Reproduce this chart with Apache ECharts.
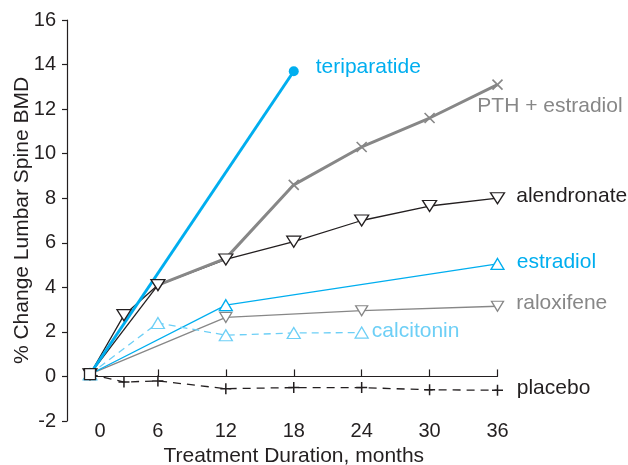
<!DOCTYPE html>
<html>
<head>
<meta charset="utf-8">
<script src="https://cdn.jsdelivr.net/npm/echarts@6/dist/echarts.min.js"></script>
<style>
  html, body { margin: 0; padding: 0; background: #fff; }
  #chart { width: 628px; height: 465px; }
</style>
</head>
<body>
<div id="chart"></div>
<script>
// Lumbar spine BMD change by treatment, months 0-36
const monthTicks = [0, 6, 12, 18, 24, 30, 36];

const teriMonths = [0, 18];
const teriValues = [0.1, 13.7];

const pthEarlyMonths = [0, 6];
const pthEarlyValues = [0.1, 4.1];
const pthMonths = [6, 12, 18, 24, 30, 36];
const pthValues = [4.1, 5.3, 8.6, 10.3, 11.6, 13.1];

const alenMonths = [0, 3, 6, 12, 18, 24, 30, 36];
const alenValues = [0.1, 2.75, 4.1, 5.25, 6.05, 7.0, 7.65, 8.0];

const estrMonths = [0, 12, 36];
const estrValues = [0.1, 3.2, 5.05];

const raloMonths = [0, 12, 24, 36];
const raloValues = [0.1, 2.65, 2.95, 3.15];

const calcMonths = [0, 6, 12, 18, 24];
const calcValues = [0.1, 2.4, 1.85, 1.95, 1.97];

const placMonths = [0, 3, 6, 12, 18, 24, 30, 36];
const placValues = [0.1, -0.25, -0.2, -0.55, -0.5, -0.5, -0.6, -0.62];

const FONT = '"Liberation Sans", Arial, Helvetica, sans-serif';
const INK = '#231f20';
const CYAN = '#00aeef';
const LIGHT_CYAN = '#6dcff6';
const GREY = '#878787';

const CROSS = 'path://M0,0L10,10M10,0L0,10';
const PLUS = 'path://M5,0L5,10M0,5L10,5';

// Build [x, y] points; the last point carries the series name label
function points(months, values, label) {
  return months.map((m, i) => {
    const item = { value: [m, values[i]] };
    if (label && i === months.length - 1) {
      item.label = Object.assign({ show: true, formatter: '{a}', fontFamily: FONT, fontSize: 21 }, label);
    }
    return item;
  });
}

const chart = echarts.init(document.getElementById('chart'), null, { renderer: 'canvas' });

chart.setOption({
  animation: false,
  backgroundColor: '#fff',
  grid: { left: 90, right: 130.5, top: 20, bottom: 44, containLabel: false, outerBoundsMode: 'none' },
  xAxis: [
    {
      // zero baseline with upward ticks
      type: 'value', min: 0, max: 36, interval: 6, position: 'top',
      axisLine: { show: true, onZero: true, lineStyle: { color: INK, width: 1.2 } },
      axisTick: { show: true, inside: false, length: 7, customValues: [6, 12, 18, 24, 30, 36],
        lineStyle: { color: INK, width: 1.2 } },
      axisLabel: { show: false },
      splitLine: { show: false }
    },
    {
      type: 'value', min: 0, max: 36, interval: 6, position: 'bottom',
      axisLine: { show: false, onZero: false },
      axisTick: { show: false },
      splitLine: { show: false },
      axisLabel: {
        color: INK, fontFamily: FONT, fontSize: 20, margin: 0,
        customValues: monthTicks,
        formatter: v => (v === 0 ? '{z|0}' : String(v)),
        rich: { z: { color: INK, fontFamily: FONT, fontSize: 20, padding: [0, 0, 0, 20] } }
      },
      name: 'Treatment Duration, months',
      nameLocation: 'middle', nameGap: 24,
      nameTextStyle: { color: INK, fontFamily: FONT, fontSize: 21 }
    }
  ],
  yAxis: {
    type: 'value', min: -2, max: 16, interval: 2, offset: 23,
    axisLine: { show: true, onZero: false, lineStyle: { color: INK, width: 1.2 } },
    axisTick: { show: true, inside: false, length: 5, lineStyle: { color: INK, width: 1.2 } },
    axisLabel: { color: INK, fontFamily: FONT, fontSize: 20, margin: 11 },
    splitLine: { show: false },
    name: '% Change Lumbar Spine BMD',
    nameLocation: 'middle', nameGap: 34, nameMoveOverlap: false,
    nameTextStyle: { color: INK, fontFamily: FONT, fontSize: 21 }
  },
  series: [
    {
      name: 'raloxifene', type: 'line', xAxisIndex: 0,
      data: points(raloMonths, raloValues, { position: 'right', distance: 12, offset: [0, -3], color: GREY }),
      lineStyle: { color: GREY, width: 1.3 },
      symbol: 'triangle', symbolRotate: 180, symbolSize: [12, 10], showSymbol: true,
      itemStyle: { color: '#fff', borderColor: GREY, borderWidth: 1.3 },
      emphasis: { disabled: true }
    },
    {
      name: 'estradiol', type: 'line', xAxisIndex: 0,
      data: points(estrMonths, estrValues, { position: 'right', distance: 12, offset: [0, -2], color: CYAN }),
      lineStyle: { color: CYAN, width: 1.3 },
      symbol: 'triangle', symbolSize: [13, 11],
      itemStyle: { color: '#fff', borderColor: CYAN, borderWidth: 1.3 },
      emphasis: { disabled: true }
    },
    {
      name: 'calcitonin', type: 'line', xAxisIndex: 0,
      data: points(calcMonths, calcValues, { position: 'right', distance: 3, offset: [0, -1], color: LIGHT_CYAN }),
      lineStyle: { color: LIGHT_CYAN, width: 1.3, type: [7, 5] },
      symbol: 'triangle', symbolSize: [13, 11],
      itemStyle: { color: '#fff', borderColor: LIGHT_CYAN, borderWidth: 1.3 },
      emphasis: { disabled: true }
    },
    {
      name: 'alendronate', type: 'line', xAxisIndex: 0,
      data: points(alenMonths, alenValues, { position: 'right', distance: 11, offset: [0, -2], color: INK }),
      lineStyle: { color: INK, width: 1.3 },
      symbol: 'triangle', symbolRotate: 180, symbolSize: [14, 11],
      itemStyle: { color: '#fff', borderColor: INK, borderWidth: 1.3 },
      emphasis: { disabled: true }
    },
    {
      name: 'PTH + estradiol (start)', type: 'line', xAxisIndex: 0,
      data: points(pthEarlyMonths, pthEarlyValues),
      lineStyle: { color: INK, width: 1.3 },
      showSymbol: false, symbol: 'none',
      emphasis: { disabled: true }
    },
    {
      name: 'PTH + estradiol', type: 'line', xAxisIndex: 0,
      data: points(pthMonths, pthValues, { position: 'right', distance: 0, offset: [-26, 22], color: GREY }).map((d, i) => {
        if (i < 2) { d.symbol = 'none'; }
        return d;
      }),
      lineStyle: { color: GREY, width: 3 },
      symbol: CROSS, symbolSize: 10,
      itemStyle: { color: GREY, borderColor: GREY, borderWidth: 1.6 },
      emphasis: { disabled: true }
    },
    {
      name: 'teriparatide', type: 'line', xAxisIndex: 0,
      data: points(teriMonths, teriValues, { position: 'right', distance: 17, offset: [0, -4], color: CYAN }).map((d, i) => {
        if (i === 0) { d.symbol = 'none'; }
        return d;
      }),
      lineStyle: { color: CYAN, width: 3 },
      symbol: 'circle', symbolSize: 10,
      itemStyle: { color: CYAN },
      emphasis: { disabled: true }
    },
    {
      name: 'placebo', type: 'line', xAxisIndex: 0,
      data: points(placMonths, placValues, { position: 'right', distance: 13, offset: [0, -2], color: INK }).map((d, i) => {
        if (i === 0) {
          d.symbol = 'rect';
          d.symbolSize = 11;
          d.itemStyle = { color: '#fff', borderColor: INK, borderWidth: 1.3 };
        }
        return d;
      }),
      lineStyle: { color: INK, width: 1.3, type: [8, 6] },
      symbol: PLUS, symbolSize: 11,
      itemStyle: { color: INK, borderColor: INK, borderWidth: 1.5 },
      emphasis: { disabled: true },
      z: 3
    }
  ]
});
</script>
</body>
</html>
